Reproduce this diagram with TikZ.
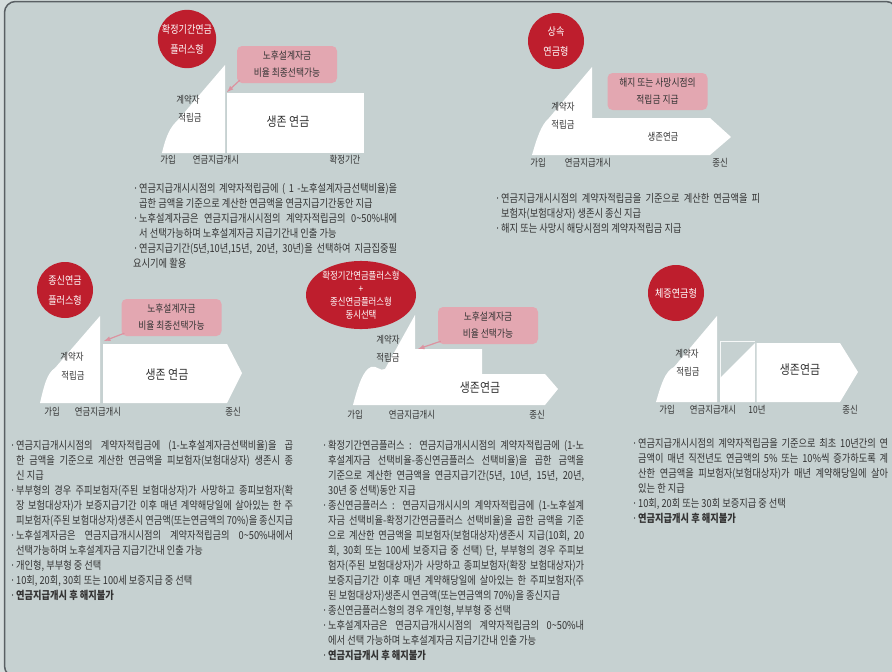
\documentclass[tikz,border=0pt]{standalone}
\usepackage{fontspec}
\setmainfont{Noto Sans CJK KR}[FakeStretch=0.84]
\usetikzlibrary{shapes.geometric}
\definecolor{outsidegray}{HTML}{D5DDDD}
\definecolor{panelgray}{HTML}{C6D1D1}
\definecolor{framegray}{HTML}{5A6064}
\definecolor{badgered}{HTML}{BE1E2D}
\definecolor{calloutpink}{HTML}{E3A7B1}
\definecolor{arrowpink}{HTML}{DC93A0}
\definecolor{inkgray}{HTML}{333333}
\tikzset{
  badge/.style={circle, fill=badgered, text=white, minimum size=56pt, inner sep=0pt,
    align=center, font=\fontsize{10.8}{20}\selectfont},
  badgeoval/.style={ellipse, fill=badgered, text=white, minimum width=110pt,
    minimum height=61pt, inner sep=0pt, align=center, font=\fontsize{10}{13}\selectfont},
  callout/.style={rounded corners=5pt, fill=calloutpink, text=inkgray, inner sep=0pt,
    minimum width=100pt, minimum height=37pt, align=center, font=\fontsize{10.4}{17}\selectfont},
  calloutarrow/.style={draw=arrowpink, line width=1.2pt, -latex},
  annuity/.style={fill=white},
  steplabel/.style={text=inkgray, inner sep=0pt, font=\fontsize{10}{11}\selectfont},
  lifetag/.style={text=inkgray, inner sep=0pt, font=\fontsize{13}{14}\selectfont},
  notes/.style={anchor=north west, text=inkgray, inner sep=0pt, align=justify,
    font=\fontsize{11}{15}\selectfont}
}
\def\bul{\par\noindent\hangindent=6pt\hangafter=1\hbox to 6pt{·\hss}}
\begin{document}
\begin{tikzpicture}[x=1pt,y=-1pt]
%%%%% START %%%%%
\useasboundingbox (0,0) rectangle (892,672);
\fill[outsidegray] (0,0) rectangle (892,672);
\draw[draw=framegray, line width=1.5pt, fill=panelgray, rounded corners=11pt] (4.5,1.5) rectangle (897,677);

% 확정기간연금플러스형
\node[badge] (badge1) at (187,39) {확정기간연금\\플러스형};
\fill[annuity] (162,153) .. controls (166,136) and (170,127) .. (178,120) -- (225,65) -- (225,153) -- cycle;
\fill[annuity] (227,93) rectangle (364,153);
\node[callout] (note1) at (287,64.5) {노후설계자금\\비율 최종선택가능};
\coordinate (tip1) at (227,92);
\draw[calloutarrow] ([shift={(3,-3)}]note1.south west) -- (tip1);
\node[steplabel] (acc1a) at (188,100) {계약자};
\node[steplabel] (acc1b) at (190,118) {적립금};
\node[lifetag] (life1) at (288,122) {생존 연금};
\node[steplabel] (join1) at (168,160) {가입};
\node[steplabel] (start1) at (216,160) {연금지급개시};
\node[steplabel] (end1) at (345,160) {확정기간};
\node[notes, text width=264pt] (notes1) at (133,177) {%
\bul 연금지급개시시점의 계약자적립금에 ( 1 -노후설계자금선택비율)을\linebreak 곱한 금액을 기준으로 계산한 연금액을 연금지급기간동안 지급
\bul 노후설계자금은 연금지급개시시점의 계약자적립금의 0\textasciitilde50\%내에\linebreak 서 선택가능하며 노후설계자금 지급기간내 인출 가능
\bul 연금지급기간(5년,10년,15년, 20년, 30년)을 선택하여 지금집중필\linebreak 요시기에 활용};

% 상속연금형
\node[badge] (badge2) at (556,41) {상속\\연금형};
\fill[annuity] (532,155) .. controls (537,138) and (541,125) .. (549,118) -- (592,67) -- (592,118)
  -- (710,118) -- (731,137) -- (710,155) -- cycle;
\node[callout] (note2) at (657.5,91.5) {해지 또는 사망시점의\\적립금 지급};
\node[steplabel] (acc2a) at (563,107) {계약자};
\node[steplabel] (acc2b) at (563,125) {적립금};
\node[steplabel] (life2) at (663,137) {생존연금};
\node[steplabel] (join2) at (538,163) {가입};
\node[steplabel] (start2) at (588,163) {연금지급개시};
\node[steplabel] (end2) at (720,163) {종신};
\node[notes, text width=265pt] (notes2) at (495,187) {%
\bul 연금지급개시시점의 계약자적립금을 기준으로 계산한 연금액을 피\linebreak 보험자(보험대상자) 생존시 종신 지급
\bul 해지 또는 사망시 해당시점의 계약자적립금 지급};

% 종신연금플러스형
\node[badge] (badge3) at (65,290) {종신연금\\플러스형};
\fill[annuity] (40,403) .. controls (44,386) and (47,373) .. (55,368) -- (100,316) -- (100,403) -- cycle;
\fill[annuity] (103,344) -- (227,344) -- (242,373) -- (227,403) -- (103,403) -- cycle;
\node[callout] (note3) at (171.5,317.5) {노후설계자금\\비율 최종선택가능};
\coordinate (tip3) at (104,341);
\draw[calloutarrow] ([shift={(3,-3)}]note3.south west) -- (tip3);
\node[steplabel] (acc3a) at (72,357) {계약자};
\node[steplabel] (acc3b) at (73,376) {적립금};
\node[lifetag] (life3) at (167,375) {생존 연금};
\node[steplabel] (join3) at (52,412) {가입};
\node[steplabel] (start3) at (98,412) {연금지급개시};
\node[steplabel] (end3) at (233,412) {종신};
\node[notes, text width=283pt] (notes3) at (10,434) {%
\bul 연금지급개시시점의 계약자적립금에 (1-노후설계자금선택비율)을 곱\linebreak 한 금액을 기준으로 계산한 연금액을 피보험자(보험대상자) 생존시 종\linebreak 신 지급
\bul 부부형의 경우 주피보험자(주된 보험대상자)가 사망하고 종피보험자(확\linebreak 장 보험대상자)가 보증지급기간 이후 매년 계약해당일에 살아있는 한 주\linebreak 피보험자(주된 보험대상자)생존시 연금액(또는연금액의 70\%)을 종신지급
\bul 노후설계자금은 연금지급개시시점의 계약자적립금의 0\textasciitilde50\%내에서\linebreak 선택가능하며 노후설계자금 지급기간내 인출 가능
\bul 개인형, 부부형 중 선택
\bul 10회, 20회, 30회 또는 100세 보증지급 중 선택
\bul \textbf{연금지급개시 후 해지불가}};

% 확정기간연금플러스형 + 종신연금플러스형
\node[badgeoval] (badge4) at (361,295) {확정기간연금플러스형\\+\\종신연금플러스형\\동시선택};
\fill[annuity] (353,405) .. controls (358,386) and (363,370) .. (371,367) .. controls (377,365) and (380,372) .. (385,369)
  -- (415,315) -- (415,349) -- (482,349) -- (482,374) -- (545,374) -- (558,389) -- (545,405) -- cycle;
\node[callout] (note4) at (488,325.5) {노후설계자금\\비율 선택가능};
\coordinate (tip4) at (418,349);
\draw[calloutarrow] ([shift={(3,-3)}]note4.south west) -- (tip4);
\node[steplabel] (acc4a) at (388,340) {계약자};
\node[steplabel] (acc4b) at (388,358) {적립금};
\node[lifetag] (life4) at (480,388) {생존연금};
\node[steplabel] (join4) at (355,415) {가입};
\node[steplabel] (start4) at (412,415) {연금지급개시};
\node[steplabel] (end4) at (537,415) {종신};
\node[notes, text width=262pt] (notes4) at (322,434) {%
\bul 확정기간연금플러스 : 연금지급개시시점의 계약자적립금에 (1-노\linebreak 후설계자금 선택비율-종신연금플러스 선택비율)을 곱한 금액을\linebreak 기준으로 계산한 연금액을 연금지급기간(5년, 10년, 15년, 20년,\linebreak 30년 중 선택)동안 지급
\bul 종신연금플러스 : 연금지급개시시의 계약자적립금에 (1-노후설계\linebreak 자금 선택비율-확정기간연금플러스 선택비율)을 곱한 금액을 기준\linebreak 으로 계산한 연금액을 피보험자(보험대상자)생존시 지급(10회, 20\linebreak 회, 30회 또는 100세 보증지급 중 선택) 단, 부부형의 경우 주피보\linebreak 험자(주된 보험대상자)가 사망하고 종피보험자(확장 보험대상자)가\linebreak 보증지급기간 이후 매년 계약해당일에 살아있는 한 주피보험자(주\linebreak 된 보험대상자)생존시 연금액(또는연금액의 70\%)을 종신지급
\bul 종신연금플러스형의 경우 개인형, 부부형 중 선택
\bul 노후설계자금은 연금지급개시시점의 계약자적립금의 0\textasciitilde50\%내\linebreak 에서 선택 가능하며 노후설계자금 지급기간내 인출 가능
\bul \textbf{연금지급개시 후 해지불가}};

% 체증연금형
\node[badge] (badge5) at (676,293) {체증연금형};
\fill[annuity] (656,402) .. controls (661,385) and (665,371) .. (674,367) -- (717,316) -- (717,402) -- cycle;
\draw[white!85!panelgray, line width=0.8pt] (720,402) |- (755,341);
\fill[annuity] (720,402) -- (720,378) -- (755,343) -- (755,402) -- cycle;
\fill[annuity] (756.5,343) -- (840,343) -- (858,372) -- (840,402) -- (756.5,402) -- cycle;
\node[steplabel] (acc5a) at (687,354) {계약자};
\node[steplabel] (acc5b) at (688,372) {적립금};
\node[lifetag] (life5) at (800,370) {생존연금};
\node[steplabel] (join5) at (667,410) {가입};
\node[steplabel] (start5) at (713,410) {연금지급개시};
\node[steplabel] (ten5) at (757,410) {10년};
\node[steplabel] (end5) at (850,410) {종신};
\node[notes, text width=256pt] (notes5) at (632,432) {%
\bul 연금지급개시시점의 계약자적립금을 기준으로 최초 10년간의 연\linebreak 금액이 매년 직전년도 연금액의 5\% 또는 10\%씩 증가하도록 계\linebreak 산한 연금액을 피보험자(보험대상자)가 매년 계약해당일에 살아\linebreak 있는 한 지급
\bul 10회, 20회 또는 30회 보증지급 중 선택
\bul \textbf{연금지급개시 후 해지불가}};
%%%%% END %%%%%
\end{tikzpicture}
\end{document}
